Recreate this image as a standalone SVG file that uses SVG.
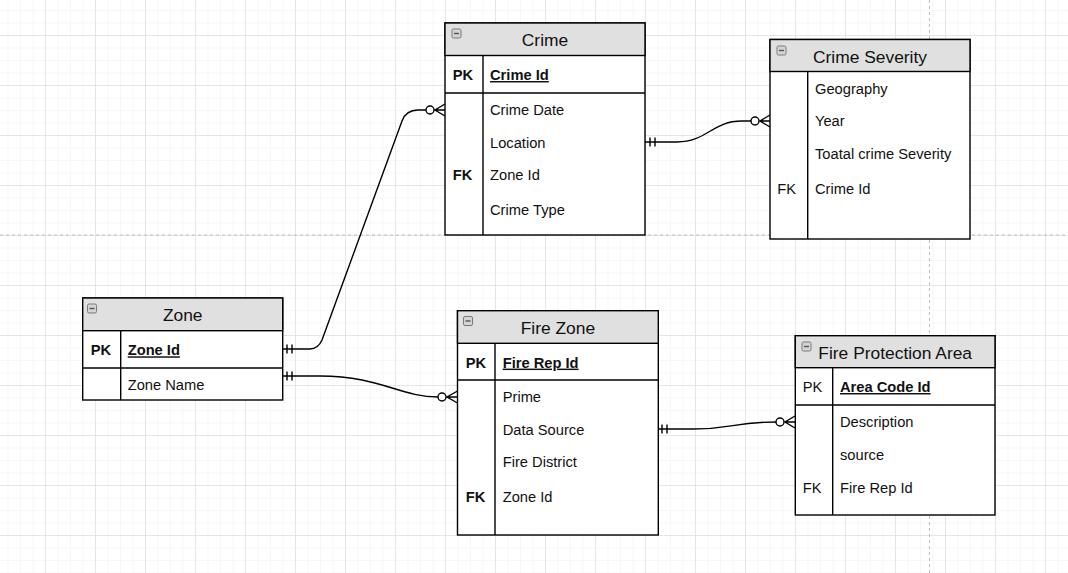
<svg xmlns="http://www.w3.org/2000/svg" width="1068" height="573" viewBox="0 0 1068 573">
<style>
.box{fill:#ffffff;stroke:#000;stroke-width:1.4}
.hdr{fill:#e0e0e0;stroke:#000;stroke-width:1.4}
.div{stroke:#000;stroke-width:1.4;fill:none}
.title{font-family:"Liberation Sans",Arial,sans-serif;font-size:17.4px;fill:#111;text-anchor:middle}
.t{font-family:"Liberation Sans",Arial,sans-serif;font-size:14.7px;fill:#111}
.b{font-weight:bold}
.u{text-decoration:underline}
.ico{fill:#d4d4d4;stroke:#7a7a7a;stroke-width:1}
.icol{stroke:#555;stroke-width:1.4}
.edge{fill:none;stroke:#000;stroke-width:1.4}
.circ{fill:#fff;stroke:#000;stroke-width:1.4}
</style>
<defs>
<pattern id="minor" x="45" y="35" width="12.5" height="12.5" patternUnits="userSpaceOnUse">
<path d="M0,0 V12.5 M0,0 H12.5" fill="none" stroke="#efefef" stroke-width="1"/>
</pattern>
<pattern id="major" x="45" y="35" width="50" height="50" patternUnits="userSpaceOnUse">
<path d="M0,0 V50 M0,0 H50" fill="none" stroke="#d6d6d6" stroke-width="1"/>
</pattern>
</defs>
<rect x="0" y="0" width="1068" height="573" fill="#ffffff"/>
<rect x="0" y="0" width="1068" height="573" fill="url(#minor)"/>
<rect x="0" y="0" width="1068" height="573" fill="url(#major)"/>
<line x1="0" y1="235" x2="1068" y2="235" stroke="#bdbdbd" stroke-width="1" stroke-dasharray="3,3"/>
<line x1="929.5" y1="0" x2="929.5" y2="573" stroke="#bdbdbd" stroke-width="1" stroke-dasharray="3,3"/>

<g id="connectors">
<path class="edge" d="M283,349 L310,349 Q318,349 322,340 L402,121 Q406,110 418,110 L426,110"/>
<line class="edge" x1="287" y1="344.5" x2="287" y2="353.5"/>
<line class="edge" x1="292" y1="344.5" x2="292" y2="353.5"/>
<circle class="circ" cx="430" cy="110" r="4"/>
<path class="edge" d="M445,104 L435,110 L445,116 M435,110 L445,110"/>

<path class="edge" d="M645,142 L677,142 C707,142 712,121 742,121 L751,121"/>
<line class="edge" x1="650" y1="137.5" x2="650" y2="146.5"/>
<line class="edge" x1="655" y1="137.5" x2="655" y2="146.5"/>
<circle class="circ" cx="755" cy="121" r="4"/>
<path class="edge" d="M770,115 L760,121 L770,127 M760,121 L770,121"/>

<path class="edge" d="M283,376 L320,376 C380,376 400,397 438,397"/>
<line class="edge" x1="287" y1="371.5" x2="287" y2="380.5"/>
<line class="edge" x1="292" y1="371.5" x2="292" y2="380.5"/>
<circle class="circ" cx="442" cy="397" r="4"/>
<path class="edge" d="M457.5,391 L447,397 L457.5,403 M447,397 L457.5,397"/>

<path class="edge" d="M658,429 L693,429 C733,429 733,422 776,422"/>
<line class="edge" x1="662" y1="424.5" x2="662" y2="433.5"/>
<line class="edge" x1="667" y1="424.5" x2="667" y2="433.5"/>
<circle class="circ" cx="780" cy="422" r="4"/>
<path class="edge" d="M795,416 L785,422 L795,428 M785,422 L795,422"/>
</g>

<g id="crime">
<rect class="box" x="445" y="23" width="200" height="212"/>
<rect class="hdr" x="445" y="23" width="200" height="32.5"/>
<line class="div" x1="445" y1="93" x2="645" y2="93"/>
<line class="div" x1="483" y1="55.5" x2="483" y2="235"/>
<rect class="ico" x="452" y="29" width="9" height="9" rx="1.5"/>
<line class="icol" x1="454" y1="33.5" x2="459" y2="33.5"/>
<text class="title" x="545" y="45.5">Crime</text>
<text class="t b" x="452.7" y="80">PK</text>
<text class="t b u" x="490" y="80">Crime Id</text>
<text class="t" x="490" y="115">Crime Date</text>
<text class="t" x="490" y="148.3">Location</text>
<text class="t b" x="452.7" y="180">FK</text>
<text class="t" x="490" y="180">Zone Id</text>
<text class="t" x="490" y="215">Crime Type</text>
</g>

<g id="crime-severity">
<rect class="box" x="770" y="39.5" width="200" height="199.5"/>
<rect class="hdr" x="770" y="39.5" width="200" height="32"/>
<line class="div" x1="807.7" y1="71.5" x2="807.7" y2="239"/>
<rect class="ico" x="777" y="46" width="9" height="9" rx="1.5"/>
<line class="icol" x1="779" y1="50.5" x2="784" y2="50.5"/>
<text class="title" x="870" y="62.7">Crime Severity</text>
<text class="t" x="815" y="94.3">Geography</text>
<text class="t" x="815" y="126">Year</text>
<text class="t" x="815" y="159.3">Toatal crime Severity</text>
<text class="t" x="777.3" y="194.3">FK</text>
<text class="t" x="815" y="194.3">Crime Id</text>
</g>

<g id="zone">
<rect class="box" x="82.7" y="298" width="200" height="102"/>
<rect class="hdr" x="82.7" y="298" width="200" height="32.7"/>
<line class="div" x1="82.7" y1="368" x2="282.7" y2="368"/>
<line class="div" x1="120.7" y1="330.7" x2="120.7" y2="400"/>
<rect class="ico" x="87.5" y="304" width="9" height="9" rx="1.5"/>
<line class="icol" x1="89.5" y1="308.5" x2="94.5" y2="308.5"/>
<text class="title" x="182.7" y="320.5">Zone</text>
<text class="t b" x="90.7" y="355.3">PK</text>
<text class="t b u" x="127.7" y="355.3">Zone Id</text>
<text class="t" x="127.7" y="390.3">Zone Name</text>
</g>

<g id="fire-zone">
<rect class="box" x="457.5" y="310.7" width="200.8" height="224.3"/>
<rect class="hdr" x="457.5" y="310.7" width="200.8" height="32.6"/>
<line class="div" x1="457.5" y1="380" x2="658.3" y2="380"/>
<line class="div" x1="495" y1="343.3" x2="495" y2="535"/>
<rect class="ico" x="463.5" y="316.5" width="9" height="9" rx="1.5"/>
<line class="icol" x1="465.5" y1="321" x2="470.5" y2="321"/>
<text class="title" x="557.9" y="333.5">Fire Zone</text>
<text class="t b" x="465.7" y="367.6">PK</text>
<text class="t b u" x="502.7" y="367.6">Fire Rep Id</text>
<text class="t" x="502.7" y="402">Prime</text>
<text class="t" x="502.7" y="435.3">Data Source</text>
<text class="t" x="502.7" y="467">Fire District</text>
<text class="t b" x="465.7" y="502">FK</text>
<text class="t" x="502.7" y="502">Zone Id</text>
</g>

<g id="fire-protection-area">
<rect class="box" x="795.3" y="335.7" width="199.7" height="179.3"/>
<rect class="hdr" x="795.3" y="335.7" width="199.7" height="32"/>
<line class="div" x1="795.3" y1="405" x2="995" y2="405"/>
<line class="div" x1="832.7" y1="367.7" x2="832.7" y2="515"/>
<rect class="ico" x="802" y="342" width="9" height="9" rx="1.5"/>
<line class="icol" x1="804" y1="346.5" x2="809" y2="346.5"/>
<text class="title" x="895.2" y="358.5">Fire Protection Area</text>
<text class="t" x="802.7" y="392">PK</text>
<text class="t b u" x="840" y="392">Area Code Id</text>
<text class="t" x="840" y="427">Description</text>
<text class="t" x="840" y="460.3">source</text>
<text class="t" x="802.7" y="492.6">FK</text>
<text class="t" x="840" y="492.6">Fire Rep Id</text>
</g>
</svg>
